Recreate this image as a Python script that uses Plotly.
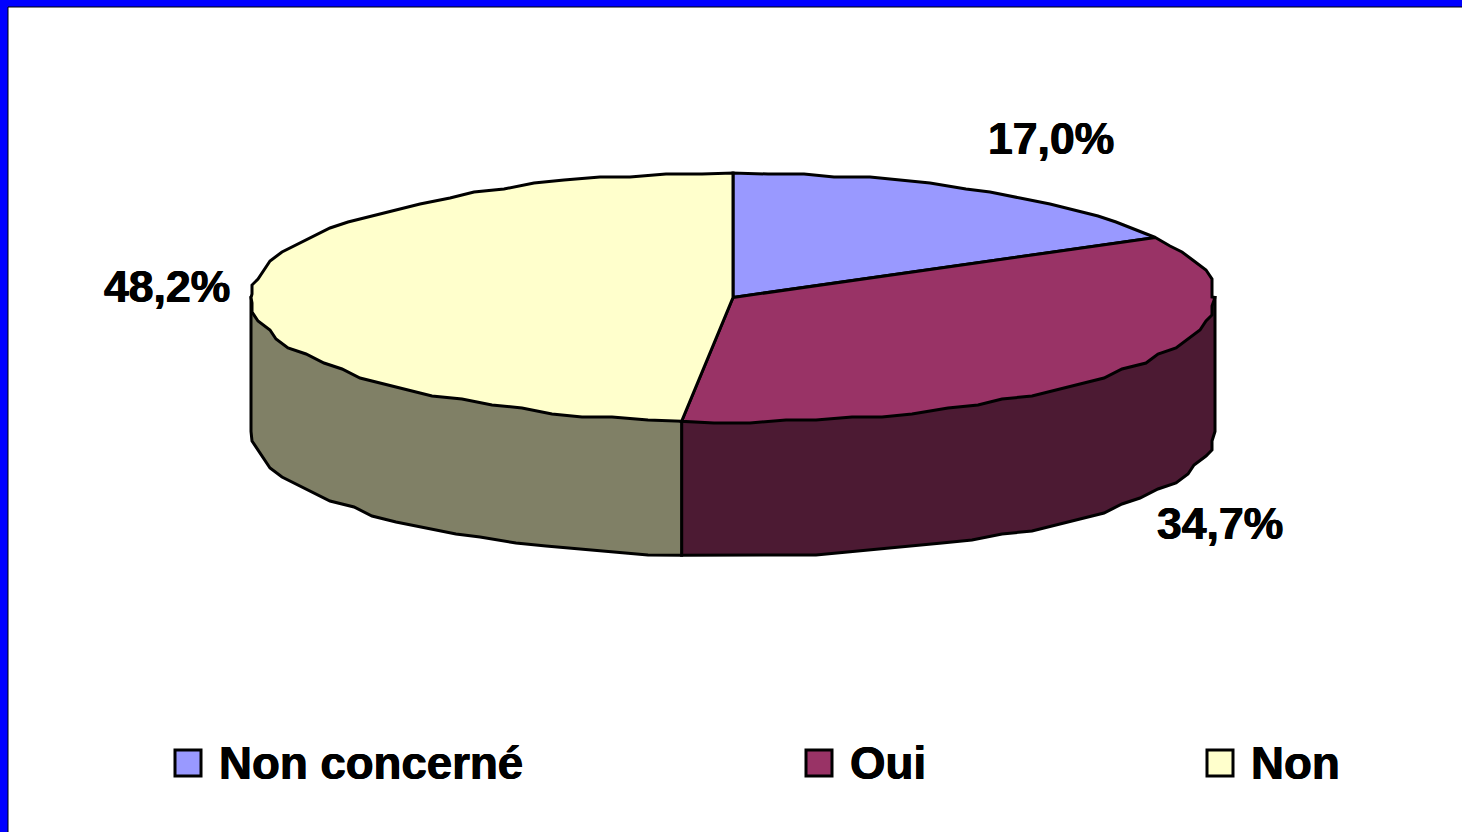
import numpy as np
import plotly.graph_objects as go

categories = ["Non concerné", "Oui", "Non"]
values = [17.0, 34.7, 48.2]
top_colors = ["#9999FF", "#993366", "#FFFFCC"]
wall_colors = ["#4D4D80", "#4C1A33", "#808066"]

W, H = 1462, 832
CX, CY, RX, RY, DEPTH = 733, 297.5, 482, 124.5, 134
FONT = "Liberation Sans, Arial, sans-serif"
BOLDER = "0.6px 0 0 black, -0.4px 0 0 black"


def rim(a0, a1, dy=0.0):
    n = max(2, int(abs(a1 - a0) / 4.0) + 1)
    deg = np.linspace(a0, a1, n)
    deg = np.union1d(deg, [d for d in (90.0, 270.0) if a0 < d < a1])
    a = np.radians(deg)
    x = CX + RX * np.sin(a)
    y = CY + dy - RY * np.cos(a)
    # slight staircase, as in the low-resolution original
    sx, sy = np.round(x / 6) * 6, np.round(y / 3) * 3
    keep = (deg == a0) | (deg == a1) | (deg == 90.0) | (deg == 270.0)
    return np.where(keep, x, sx), np.where(keep, y, sy)


# the printed percentages are rounded and sum to 99.9; the last slice closes the circle
edges = np.concatenate([[0], np.cumsum(values)]) * 3.6
edges[-1] = 360.0

fig = go.Figure()

# side walls: bottom rim, then up under the top faces (only 90 to 270 degrees is visible)
for i in range(len(values)):
    a0, a1 = max(edges[i], 90), min(edges[i + 1], 270)
    if a1 <= a0:
        continue
    bx, by = rim(a0, a1, DEPTH)
    tx, ty = rim(a0, a1)
    fig.add_trace(go.Scatter(
        x=np.concatenate([tx[:1], bx, tx[-1:], [CX], tx[:1]]),
        y=np.concatenate([ty[:1], by, ty[-1:], [CY], ty[:1]]),
        mode="lines", fill="toself", fillcolor=wall_colors[i],
        line=dict(color="black", width=3), showlegend=False, hoverinfo="skip",
    ))

# top faces
for i, c in enumerate(categories):
    rx, ry = rim(edges[i], edges[i + 1])
    fig.add_trace(go.Scatter(
        x=np.concatenate([[CX], rx, [CX]]),
        y=np.concatenate([[CY], ry, [CY]]),
        mode="lines", fill="toself", fillcolor=top_colors[i],
        line=dict(color="black", width=3), name=c, showlegend=False,
        text=f"{c}: {values[i]:.1f}%", hoverinfo="text",
    ))

# legend
legend_x = [188, 819, 1220]
for c, col, lx in zip(categories, top_colors, legend_x):
    fig.add_trace(go.Scatter(
        x=[lx], y=[763], mode="markers",
        marker=dict(symbol="square", size=26, color=col, line=dict(color="black", width=3)),
        showlegend=False, hoverinfo="skip",
    ))
    fig.add_annotation(x=lx + 28.5, y=763, text=f"<b>{c}</b>", showarrow=False, xanchor="left",
                       yanchor="middle", font=dict(family=FONT, size=45.6, color="black", shadow=BOLDER))

# data labels
label_pos = [(1051, 138), (1220, 523), (167, 286)]
for v, (lx, ly) in zip(values, label_pos):
    fig.add_annotation(x=lx, y=ly, text="<b>" + f"{v:.1f}".replace(".", ",") + "%</b>",
                       showarrow=False, xanchor="center", yanchor="middle",
                       font=dict(family=FONT, size=44.5, color="black", shadow=BOLDER))

# frame: blue band on top and left with a thin black inner line
fig.update_layout(
    width=W, height=H, margin=dict(l=0, r=0, t=0, b=0),
    paper_bgcolor="white", plot_bgcolor="white",
    xaxis=dict(range=[0, W], visible=False, fixedrange=True),
    yaxis=dict(range=[H, 0], visible=False, fixedrange=True),
    shapes=[
        dict(type="rect", xref="x", yref="y", x0=0, x1=W, y0=0, y1=7, fillcolor="#0000FF", line_width=0, layer="below"),
        dict(type="rect", xref="x", yref="y", x0=0, x1=8, y0=0, y1=H, fillcolor="#0000FF", line_width=0, layer="below"),
        dict(type="line", xref="x", yref="y", x0=8, x1=W, y0=7, y1=7, line=dict(color="black", width=1)),
        dict(type="line", xref="x", yref="y", x0=8, x1=8, y0=7, y1=H, line=dict(color="black", width=1)),
    ],
)

fig.write_html("out.html", config={"displayModeBar": False},
               post_script="document.body.style.margin='0';document.body.style.overflow='hidden';")
